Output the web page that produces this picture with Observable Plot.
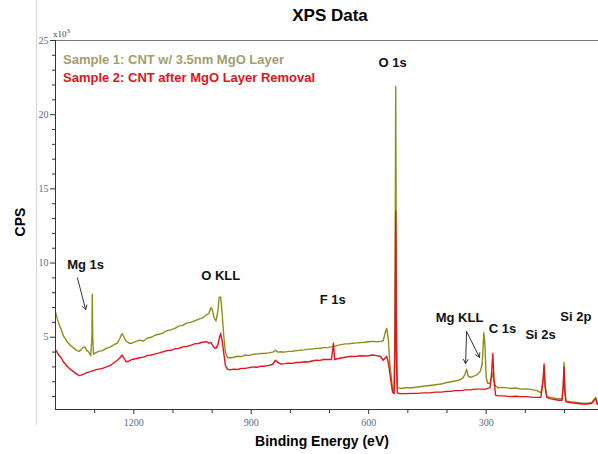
<!DOCTYPE html>
<html><head><meta charset="utf-8">
<script src="https://cdn.jsdelivr.net/npm/d3@7"></script>
<script src="https://cdn.jsdelivr.net/npm/@observablehq/plot@0.6"></script>
<style>
body{margin:0;background:#fff;}
#wrap{position:relative;width:598px;height:454px;font-family:"Liberation Sans",Arial,sans-serif;overflow:hidden;}
.t{position:absolute;font-weight:bold;white-space:nowrap;line-height:1;}
.c{transform:translate(-50%,-50%);}
</style></head><body><div id="wrap"></div>
<script>
// Binding energy (eV), descending as plotted
const energy = [
 1400,1395,1390,1385,1380,1375,1370,1365,1360,1355,1350,1345,1340,1335,1330,1325,1320,1315,1310,1307,1306,1305,1303,
 1298,1290,1280,1270,1260,1250,1242,1236,1230,1225,1220,1212,1205,
 1195,1185,1175,1165,1155,1145,1135,1125,1115,1105,1095,1085,1075,1065,1055,1045,1035,1025,1015,
 1008,1003,1000,995,990,985,982,978,974,970,966,961,955,
 945,935,925,915,905,895,885,875,865,855,845,
 838,832,825,815,805,795,785,775,765,755,745,735,725,715,705,695,
 690,687,680,670,660,650,640,630,620,610,600,590,580,570,
 563,558,554,550,546,542,539,535,533,531,529,527,
 520,505,490,475,460,445,430,415,400,390,380,370,360,354,350,346,340,330,322,315,310,306,303,300,296,290,286,283,280,276,
 270,255,240,225,210,195,180,170,160,155,152,149,145,135,125,115,106,103,101,99,96,85,70,55,40,30,24,20,16,12
];
// Sample 1: CNT w/ 3.5nm MgO Layer (CPS x10^3)
const sample1 = [
 6.7,6.2,5.8,5.5,5.1,4.9,4.7,4.55,4.4,4.3,4.2,4.1,4.05,4.15,4.3,4.35,4.1,4.0,3.75,5.0,7.9,5.2,3.85,
 3.95,4.05,4.1,4.25,4.35,4.5,4.6,4.9,5.25,5.0,4.75,4.6,4.6,
 4.7,4.8,4.75,4.95,5.0,5.15,5.2,5.3,5.45,5.5,5.6,5.75,5.8,5.95,6.0,6.1,6.2,6.3,6.5,
 6.6,7.0,6.9,6.3,6.1,6.8,7.7,7.7,6.5,5.0,4.0,3.65,3.6,
 3.65,3.72,3.7,3.8,3.78,3.85,3.88,3.9,3.92,3.95,4.0,
 4.12,4.0,4.02,4.0,4.05,4.06,4.1,4.12,4.15,4.2,4.2,4.25,4.26,4.3,4.3,4.35,
 4.4,4.38,4.45,4.5,4.55,4.56,4.6,4.62,4.65,4.66,4.7,4.72,4.7,4.72,
 4.75,5.3,5.6,4.9,3.2,2.2,1.5,1.4,5.5,21.9,6.0,1.6,
 1.55,1.6,1.6,1.65,1.7,1.75,1.8,1.85,1.95,2.0,2.05,2.1,2.25,2.5,2.85,2.4,2.3,2.4,2.5,2.7,3.2,5.3,4.5,2.3,1.9,1.9,2.3,2.6,2.0,1.7,
 1.6,1.62,1.55,1.58,1.5,1.52,1.45,1.4,1.25,2.0,2.6,1.6,1.0,0.95,0.9,0.85,0.85,1.8,3.3,1.5,0.7,0.65,0.6,0.55,0.55,0.6,0.8,0.95,0.5,0.45
];
// Sample 2: CNT after MgO Layer Removal (CPS x10^3)
const sample2 = [
 4.15,3.95,3.75,3.6,3.35,3.2,3.05,2.9,2.8,2.7,2.6,2.5,2.42,2.45,2.5,2.55,2.62,2.65,2.7,2.72,2.72,2.73,2.75,
 2.8,2.85,2.9,3.0,3.1,3.3,3.45,3.6,3.8,3.6,3.35,3.4,3.5,
 3.55,3.62,3.66,3.78,3.8,3.88,3.95,4.02,4.1,4.12,4.22,4.25,4.35,4.38,4.45,4.55,4.58,4.66,4.7,
 4.6,4.65,4.5,4.3,4.25,4.5,4.9,5.25,4.7,3.9,3.1,2.85,2.8,
 2.85,2.83,2.9,2.9,2.95,3.0,2.98,3.05,3.05,3.1,3.18,
 3.45,3.3,3.2,3.22,3.25,3.24,3.3,3.3,3.35,3.33,3.4,3.45,3.44,3.5,3.5,3.5,
 4.6,3.5,3.55,3.6,3.65,3.7,3.7,3.72,3.75,3.74,3.75,3.8,3.76,3.7,
 3.45,3.6,3.7,3.3,2.6,1.8,1.3,1.2,4.0,13.5,3.5,1.25,
 1.2,1.2,1.22,1.22,1.25,1.25,1.3,1.3,1.35,1.35,1.4,1.4,1.42,1.45,1.45,1.45,1.45,1.5,1.5,1.5,1.5,1.5,1.5,1.5,1.55,1.6,2.6,3.9,2.2,1.1,
 1.05,1.05,1.0,1.02,1.0,1.0,0.95,0.95,0.95,2.0,3.2,1.6,0.95,0.85,0.8,0.75,0.75,1.7,3.0,1.3,0.65,0.6,0.55,0.5,0.5,0.55,0.75,0.85,0.5,0.45
];
const legendLabels = ["Sample 1: CNT w/ 3.5nm MgO Layer", "Sample 2: CNT after MgO Layer Removal"];
const yTicks = [5, 10, 15, 20, 25];
const yMinor = [1,2,3,4,6,7,8,9,11,12,13,14,16,17,18,19,21,22,23,24];
const xTicks = [1200, 900, 600, 300];
const xMinor = [1300, 1100, 1000, 800, 700, 500, 400, 200, 100];
// peak annotations (label, binding energy, CPS x10^3)
const peakLabels = ["O 1s", "Mg 1s", "O KLL", "F 1s", "Mg KLL", "C 1s", "Si 2s", "Si 2p"];
const peakEnergy = [539, 1323, 978, 692, 368, 258, 161, 71];
const peakCps = [23.5, 9.9, 9.16, 7.54, 6.33, 5.59, 5.19, 6.4];
// annotation arrows (from / to, in data units)
const arrowFromE = [1344, 350, 350];
const arrowFromV = [9.0, 5.39, 5.39];
const arrowToE = [1323, 352.5, 317];
const arrowToV = [6.87, 3.23, 3.64];

const rows = energy.map((e, i) => ({e, s1: sample1[i], s2: sample2[i]}));
const ann = peakLabels.map((label, i) => ({label, e: peakEnergy[i], v: peakCps[i]}));
const arr = arrowFromE.map((e, i) => ({e1: e, v1: arrowFromV[i], e2: arrowToE[i], v2: arrowToV[i]}));

const tickFill = "#5a6b8c";
const plot = Plot.plot({
  width: 598, height: 454,
  marginTop: 40, marginBottom: 45, marginLeft: 55, marginRight: 0,
  x: {domain: [1400, 13], label: null},
  y: {domain: [0.13, 25], label: null},
  style: {background: "transparent", fontFamily: "Liberation Sans, Arial, sans-serif", overflow: "visible"},
  marks: [
    Plot.line(rows, {x: "e", y: "s1", stroke: "#8e8e1a", strokeWidth: 1.4, clip: true}),
    Plot.line(rows, {x: "e", y: "s2", stroke: "#e3141b", strokeWidth: 1.4, clip: true}),
    Plot.ruleY([25], {stroke: "#777", strokeWidth: 1}),
    Plot.ruleX([1400], {stroke: "#333", strokeWidth: 1}),
    Plot.ruleY([0.13], {stroke: "#333", strokeWidth: 1}),
    Plot.axisY(yTicks, {anchor: "left", tickSize: 5, tickPadding: 2, fontSize: 10, fontFamily: "Liberation Serif", stroke: "#333", fill: tickFill, label: null, tickFormat: d3.format("d")}),
    Plot.axisY(yMinor, {anchor: "left", tickSize: 3, fill: "none", stroke: "#333", label: null}),
    Plot.axisX(xTicks, {anchor: "bottom", tickSize: 5, tickPadding: 4, fontSize: 10, fontFamily: "Liberation Serif", stroke: "#333", fill: tickFill, label: null, tickFormat: d3.format("d")}),
    Plot.axisX(xMinor, {anchor: "bottom", tickSize: 4, fill: "none", stroke: "#333", label: null}),
    Plot.text(ann, {x: "e", y: "v", text: "label", fontWeight: "bold", fontSize: 13, fill: "#111"}),
    Plot.arrow(arr, {x1: "e1", y1: "v1", x2: "e2", y2: "v2", stroke: "#333", strokeWidth: 1, headLength: 7})
  ]
});
const wrap = document.getElementById("wrap");
wrap.appendChild(plot);
plot.style.position = "absolute"; plot.style.left = "0"; plot.style.top = "0";

function addText(txt, css, cls) {
  const d = document.createElement("div");
  d.className = "t " + (cls || "");
  d.innerHTML = txt;
  Object.assign(d.style, css);
  wrap.appendChild(d);
  return d;
}
// frame edge line of the original graphic
const edge = document.createElement("div");
Object.assign(edge.style, {position: "absolute", left: "36px", top: "0px", width: "1px", height: "425px", background: "#d6d6d6"});
wrap.appendChild(edge);

addText("XPS Data", {left: "330px", top: "15px", fontSize: "17px", color: "#000"}, "c");
addText("CPS", {left: "20px", top: "222px", fontSize: "14px", color: "#000", transform: "translate(-50%,-50%) rotate(-90deg)"});
addText("Binding Energy (eV)", {left: "322px", top: "441px", fontSize: "14px", color: "#000"}, "c");
addText(legendLabels[0], {left: "63px", top: "53px", fontSize: "13px", color: "#a29e6e"});
addText(legendLabels[1], {left: "63px", top: "71px", fontSize: "13px", color: "#e0141c"});
addText("x10<sup style='font-size:7px'>3</sup>", {left: "53px", top: "28px", fontSize: "9px", color: "#444", fontWeight: "normal", fontFamily: "Liberation Serif"});
</script>
</body></html>
